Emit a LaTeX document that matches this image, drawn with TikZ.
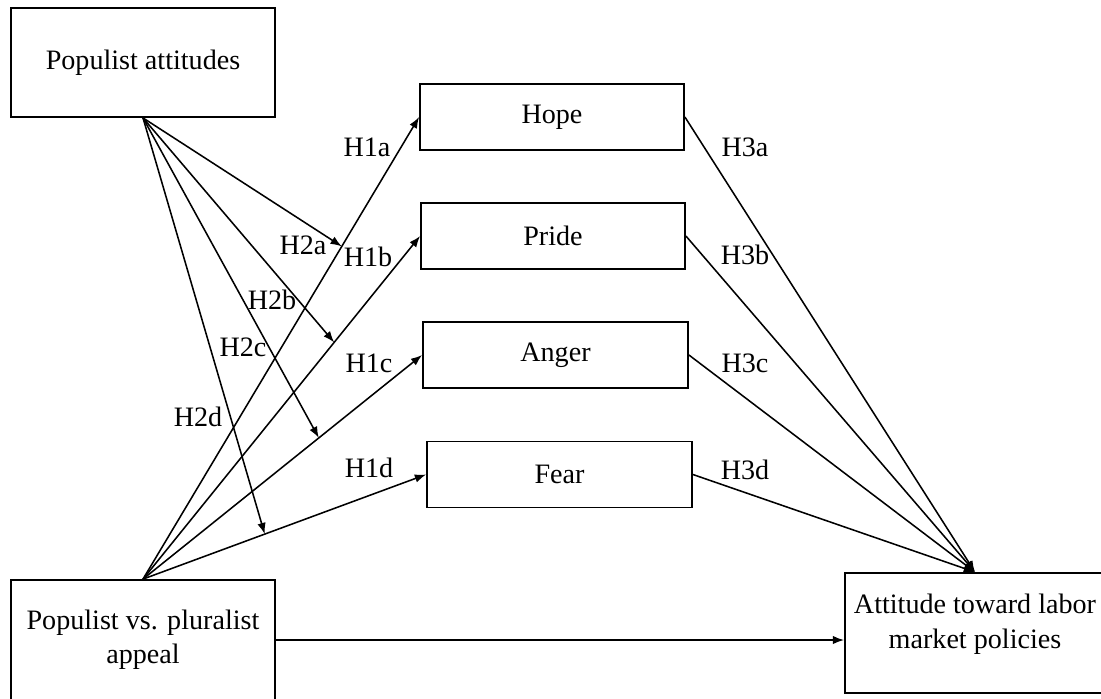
\documentclass[tikz,border=0pt]{standalone}
\usepackage{fontspec}
\setmainfont{Liberation Serif}
\usetikzlibrary{arrows.meta}
\tikzset{
    every node/.style={font=\fontsize{20pt}{24.5pt}\selectfont, inner sep=1pt},
    box/.style={draw, line width=1.3pt, align=center, minimum width=6.6cm},
    hyp/.style={fill=none, draw=none},
    arr/.style={line width=1.1pt, -{Latex[length=8pt,width=6pt]}}
}

\begin{document}
\begin{tikzpicture}
	\useasboundingbox (0cm,0cm) rectangle (27.525cm,-17.45cm);
	% boxes
	\node [box, minimum height=2.725cm] (attit) at (3.575cm,-1.5625cm) {Populist attitudes};
	\node [box, minimum height=1.65cm] (hope) at (13.8cm,-2.925cm) {Hope};
	\node [box, minimum height=1.65cm] (pride) at (13.825cm,-5.9cm) {Pride};
	\node [box, minimum height=1.65cm, minimum width=6.625cm] (anger) at (13.8875cm,-8.875cm) {Anger};
	\node [box, minimum height=1.65cm, minimum width=6.625cm] (fear) at (13.9875cm,-11.8625cm) {Fear};
	\node [box, minimum height=3cm] (appeal) at (3.575cm,-16cm) {Populist vs. pluralist\\appeal};
	\node [box, minimum height=3cm, minimum width=6.5cm] (labor) at (24.375cm,-15.825cm) {Attitude toward labor\\market policies\\[-8pt]};
	% hypothesis labels
	\node [hyp] (h1a) at (9.175cm,-3.675cm) {H1a};
	\node [hyp] (h1b) at (9.2cm,-6.425cm) {H1b};
	\node [hyp] (h1c) at (9.225cm,-9.075cm) {H1c};
	\node [hyp] (h1d) at (9.225cm,-11.7cm) {H1d};
	\node [hyp] (h2a) at (7.575cm,-6.125cm) {H2a};
	\node [hyp] (h2b) at (6.8cm,-7.5cm) {H2b};
	\node [hyp] (h2c) at (6.075cm,-8.675cm) {H2c};
	\node [hyp] (h2d) at (4.95cm,-10.425cm) {H2d};
	\node [hyp] (h3a) at (18.625cm,-3.675cm) {H3a};
	\node [hyp] (h3b) at (18.625cm,-6.375cm) {H3b};
	\node [hyp] (h3c) at (18.625cm,-9.075cm) {H3c};
	\node [hyp] (h3d) at (18.625cm,-11.75cm) {H3d};
	% appeal -> emotions
	\draw [arr] (appeal.north) -- coordinate[pos=.72] (m1) (hope.west);
	\draw [arr] (appeal.north) -- coordinate[pos=.69] (m2) (pride.west);
	\draw [arr] (appeal.north) -- coordinate[pos=.63] (m3) (anger.west);
	\draw [arr] (appeal.north) -- coordinate[pos=.43] (m4) (fear.west);
	% moderation
	\draw [arr] (attit.south) -- (m1);
	\draw [arr] (attit.south) -- (m2);
	\draw [arr] (attit.south) -- (m3);
	\draw [arr] (attit.south) -- (m4);
	% emotions -> outcome
	\draw [arr] (hope.east) -- (labor.north);
	\draw [arr] (pride.east) -- (labor.north);
	\draw [arr] (anger.east) -- (labor.north);
	\draw [arr] (fear.east) -- (labor.north);
	\draw [arr] (appeal.east) -- (appeal.east -| labor.west);
\end{tikzpicture}
\end{document}
